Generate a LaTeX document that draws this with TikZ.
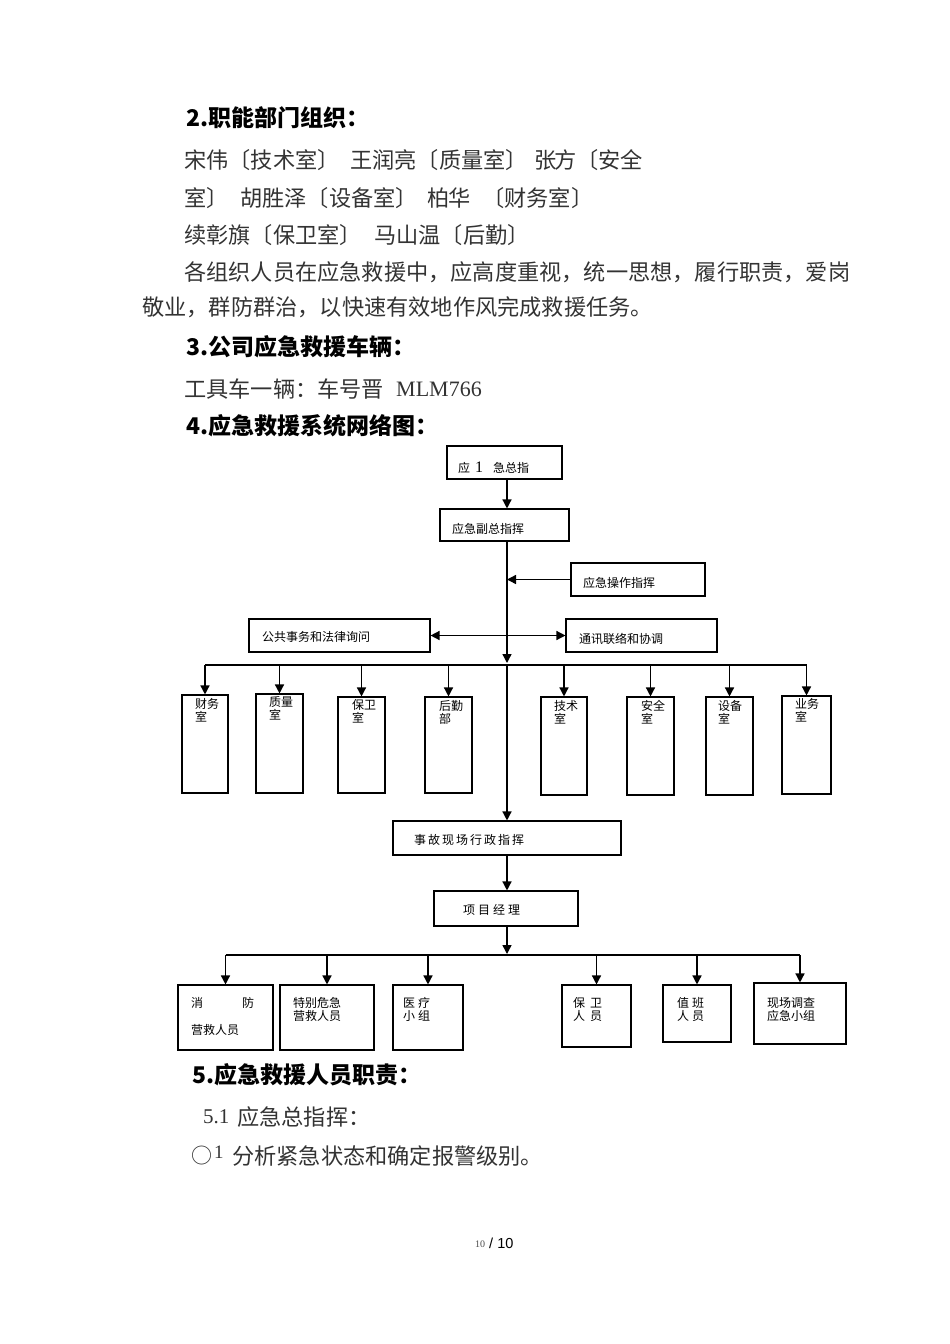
\documentclass[tikz,border=0pt]{standalone}
\usepackage{fontspec}
\setmainfont{Liberation Serif}
\newfontfamily\cjk{Noto Sans CJK SC}
\newfontfamily\lsans{Liberation Sans}
\usetikzlibrary{arrows.meta,fit}
\begin{document}
\begin{tikzpicture}[x=1pt,y=-1pt,
  box/.style={draw, line width=1.1pt, inner sep=0pt},
  dt/.style={anchor=west, inner sep=0pt, font=\cjk\fontsize{12}{13.5}\selectfont, align=left},
  dtt/.style={anchor=north west, inner sep=0pt, font=\cjk\fontsize{12}{13.5}\selectfont, align=left},
  body/.style={anchor=west, inner sep=0pt, font=\cjk\fontsize{22.2}{26}\selectfont, text=black!80},
  head/.style={anchor=west, inner sep=0pt, font=\cjk\bfseries\fontsize{23}{26}\selectfont, text=black},
  conn/.style={line width=1.4pt},
  arr/.style={line width=1.4pt, -{Triangle[length=9pt,width=9pt]}},
  arrtwo/.style={line width=1.4pt, {Triangle[length=9pt,width=9pt]}-{Triangle[length=9pt,width=9pt]}},
  shd/.style={line width=1.8pt}
]
\useasboundingbox (0,0) rectangle (950,1344);

% ---------- document text ----------
\node[head] (h2) at (186,118) {2.职能部门组织：};
\node[body] (l1a) at (184,160) {宋伟〔技术室〕};
\node[body] (l1b) at (350,160) {王润亮〔质量室〕};
\node[body] (l1c) at (534,160) {张};
\node[body] (l1d) at (554,160) {方};
\node[body] (l1e) at (576,160) {〔安全};
\node[body] (l2a) at (184,198) {室〕};
\node[body] (l2b) at (240,198) {胡胜泽〔设备室〕};
\node[body] (l2c) at (427,198) {柏};
\node[body] (l2d) at (448,198) {华};
\node[body] (l2e) at (482,198) {〔财务室〕};
\node[body] (l3a) at (184,235) {续彰旗〔保卫室〕};
\node[body] (l3b) at (374,235) {马山温〔后勤〕};
\node[body] (l4) at (184,272) {各组织人员在应急救援中，应高度重视，统一思想，履行职责，爱岗};
\node[body] (l5) at (142,307) {敬业，群防群治，以快速有效地作风完成救援任务。};
\node[head] (h3) at (186,347) {3.公司应急救援车辆：};
\node[body] (car) at (184,389) {工具车一辆：车号晋};
\node[body, font=\rmfamily\fontsize{22}{26}\selectfont] (plate) at (396,389) {MLM766};
\node[head] (h4) at (186,426) {4.应急救援系统网络图：};

% ---------- diagram boxes ----------
\coordinate (spine) at (507,0);
\coordinate (bus) at (0,665);
\coordinate (bus2) at (0,955);

\node[box, fit={(447,446) (562,479)}] (top) {};
\node[box, fit={(440,509) (569,541)}] (vice) {};
\node[box, fit={(571,563) (705,596)}] (ops) {};
\node[box, fit={(249,619) (430,652)}] (pub) {};
\node[box, fit={(566,619) (717,652)}] (comm) {};

\node[box, fit={(182,695) (228,793)}] (caiwu) {};
\node[box, fit={(256,694) (303,793)}] (zhiliang) {};
\node[box, fit={(338,697) (385,793)}] (baowei) {};
\node[box, fit={(425,697) (472,793)}] (houqin) {};
\node[box, fit={(541,697) (587,795)}] (jishu) {};
\node[box, fit={(627,697) (674,795)}] (anquan) {};
\node[box, fit={(706,697) (753,795)}] (shebei) {};
\node[box, fit={(782,696) (831,794)}] (yewu) {};

\node[box, fit={(393,821) (621,855)}] (acc) {};
\node[box, fit={(434,891) (578,926)}] (pm) {};

\node[box, fit={(178,985) (273,1050)}] (xiaofang) {};
\node[box, fit={(280,985) (374,1050)}] (tebie) {};
\node[box, fit={(393,985) (463,1050)}] (yiliao) {};
\node[box, fit={(562,985) (631,1047)}] (baoweiry) {};
\node[box, fit={(663,985) (731,1042)}] (zhiban) {};
\node[box, fit={(754,983) (846,1044)}] (xianchang) {};

% shadow-like thick edges
\draw[shd] (top.north east) -- (top.south east) -- (top.south west);
\draw[shd] (ops.north east) -- (ops.south east) -- (ops.south west);
\draw[shd] (acc.north east) -- (acc.south east) -- (acc.south west);
\draw[shd] (houqin.north west) -- (houqin.south west);
\draw[shd] (jishu.north west) -- (jishu.south west);
\draw[shd] (shebei.north west) -- (shebei.south west);
\draw[shd] (baoweiry.north west) -- (baoweiry.south west);

% ---------- box texts ----------
\node[dt] (ttop) at (458,468) {应\hspace{5pt}{\rmfamily\fontsize{16}{16}\selectfont 1}\hspace{10pt}急总指};
\node[dt] (tvice) at (452,529) {应急副总指挥};
\node[dt] (tops) at (583,583) {应急操作指挥};
\node[dt] (tpub) at (262,637) {公共事务和法律询问};
\node[dt] (tcomm) at (579,639) {通讯联络和协调};

\node[dtt] (tcaiwu) at (195,698) {财务\\室};
\node[dtt] (tzhiliang) at (269,696) {质量\\室};
\node[dtt] (tbaowei) at (352,699) {保卫\\室};
\node[dtt] (thouqin) at (439,700) {后勤\\部};
\node[dtt] (tjishu) at (554,700) {技术\\室};
\node[dtt] (tanquan) at (641,700) {安全\\室};
\node[dtt] (tshebei) at (718,700) {设备\\室};
\node[dtt] (tyewu) at (795,698) {业务\\室};

\node[dt, font=\cjk\fontsize{12}{13.5}\selectfont\addfontfeature{LetterSpace=16.7}] (tacc) at (414,840) {事故现场行政指挥};
\node[dt, font=\cjk\fontsize{12}{13.5}\selectfont\addfontfeature{LetterSpace=25}] (tpm) at (463,910) {项目经理};

\node[dt] (txf1) at (191,1003) {消};
\node[dt] (txf2) at (242,1003) {防};
\node[dt] (txf3) at (191,1030) {营救人员};
\node[dtt] (ttebie) at (293,997) {特别危急\\营救人员};
\node[dtt] (tyiliao) at (403,997) {医\hspace{3pt}疗\\小\hspace{3pt}组};
\node[dtt] (tbaoweiry) at (573,997) {保\hspace{5pt}卫\\人\hspace{5pt}员};
\node[dtt] (tzhiban) at (677,997) {值\hspace{3pt}班\\人\hspace{3pt}员};
\node[dtt] (txianchang) at (767,997) {现场调查\\应急小组};

% ---------- connectors ----------
\draw[arr] (top.south -| spine) -- (vice.north -| spine);
\draw[arr] (vice.south -| spine) -- ([yshift=2pt]spine |- bus);
\draw[arr] (spine |- bus) -- (acc.north -| spine);
\draw[arr] (ops.west) -- (ops.west -| spine);
\draw[arrtwo] (pub.east) -- (comm.west);
\draw[conn] (caiwu.north |- bus) -- (yewu.north |- bus);
\foreach \d in {caiwu,zhiliang,baowei,houqin,jishu,anquan,shebei,yewu}
  \draw[arr] (\d.north |- bus) -- (\d.north);
\draw[arr] (acc.south -| spine) -- (pm.north -| spine);
\draw[arr] (pm.south -| spine) -- ([yshift=1pt]spine |- bus2);
\draw[conn] (xiaofang.north |- bus2) -- (xianchang.north |- bus2);
\foreach \d in {xiaofang,tebie,yiliao,baoweiry,zhiban,xianchang}
  \draw[arr] (\d.north |- bus2) -- (\d.north);

% ---------- lower text ----------
\node[head] (h5) at (192,1075) {5.应急救援人员职责：};
\node[body, font=\rmfamily\fontsize{21}{26}\selectfont] (s51) at (203,1117) {5.1};
\node[body] (s51t) at (237,1117) {应急总指挥：};
\node[body, font=\cjk\fontsize{21}{24}\selectfont] (circ) at (191,1156) {○};
\node[body, font=\rmfamily\fontsize{19}{24}\selectfont] (one) at (214,1152) {1};
\node[body] (item) at (232,1156) {分析紧急状态和确定报警级别。};

\node[anchor=west, inner sep=0pt, font=\rmfamily\fontsize{10}{12}\selectfont, text=black!70] (pg1) at (475,1244) {10};
\node[anchor=west, inner sep=0pt, font=\lsans\fontsize{14.5}{16}\selectfont] (pg2) at (489,1243) {/ 10};
\end{tikzpicture}
\end{document}
